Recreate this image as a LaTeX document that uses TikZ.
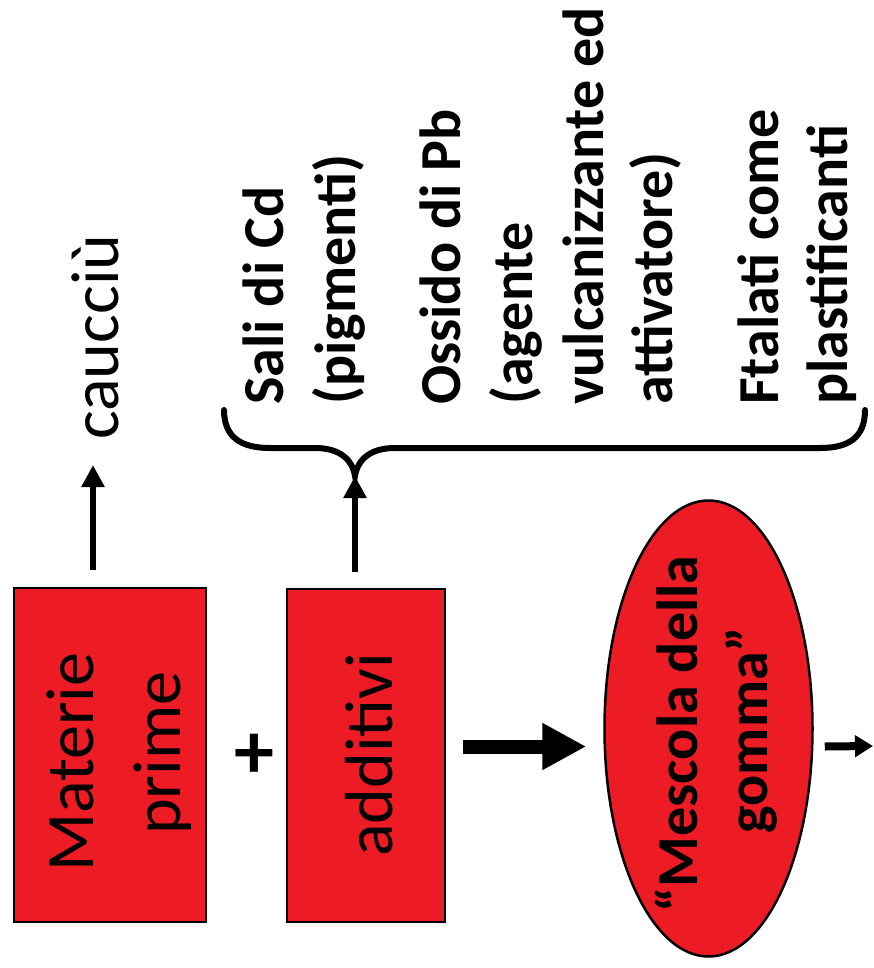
\documentclass[tikz,border=0pt]{standalone}
\usepackage{fontspec}
\setmainfont{Carlito}
\usetikzlibrary{arrows.meta,shapes.geometric,calc}
\definecolor{boxred}{HTML}{ED1C24}
\begin{document}
\begin{tikzpicture}[x=1pt,y=-1pt]
\tikzset{
 redbox/.style={draw=black, line width=2.5pt, fill=boxred, inner sep=0pt},
 reg/.style={font=\fontsize{68}{83}\selectfont, rotate=90, anchor=base west, inner sep=0pt},
 bld/.style={font=\fontsize{58}{71}\selectfont\bfseries, rotate=90, anchor=base west, inner sep=0pt},
 arr/.style={line width=6pt, -{Triangle[width=22pt,length=22pt]}},
 bigarr/.style={line width=14pt, -{Triangle[width=44pt,length=44pt]}},
 smallarr/.style={line width=8pt, -{Triangle[width=21pt,length=18pt]}},
 brace/.style={line width=6pt, line cap=round},
}
\useasboundingbox (0,0) rectangle (874,968);
\node[redbox, minimum width=192pt, minimum height=334pt] (b1) at (110,755) {};
\node[redbox, minimum width=158pt, minimum height=333pt] (b2) at (366,755.5) {};
\node[redbox, ellipse, minimum width=208pt, minimum height=456pt] (ell) at (708.5,728.5) {};
% box texts
\node[reg] (t1a) at (93,872) {Materie};
\node[reg] (t1b) at (180,835) {prime};
\node[reg] (t2) at (392,857) {additivi};
\node[reg] (cau) at (118,440) {caucciù};
\node[font=\fontsize{80}{80}\selectfont\bfseries, inner sep=0pt] (plus) at (254,756) {+};
% list
\node[bld] (l1) at (283,405) {Sali di Cd};
\node[bld] (l2) at (355,405) {(pigmenti)};
\node[bld] (l3) at (460,405) {Ossido di Pb};
\node[bld] (l4) at (532,405) {(agente};
\node[bld] (l5) at (603,405) {vulcanizzante ed};
\node[bld] (l6) at (672,405) {attivatore)};
\node[bld] (l7) at (778,405) {Ftalati come};
\node[bld] (l8) at (847,405) {plastificanti};
% ellipse text
\node[bld, anchor=base] (e1) at (697,734) {“Mescola della};
\node[bld, anchor=base] (e2) at (767,730) {gomma”};
% arrows
\coordinate (c1) at (93,465);
\draw[arr] ([xshift=-17pt,yshift=17pt]b1.north) -- (c1);
\coordinate (cusp) at (355,476);
\draw[arr] ([xshift=-11pt,yshift=16pt]b2.north) -- (cusp);
\draw[brace] (224,410) .. controls (224,438) and (242,448) .. (270,448) -- (315,448) .. controls (338,448) and (352,458) .. (cusp) .. controls (358,458) and (372,448) .. (395,448) -- (820,448) .. controls (848,448) and (865,438) .. (865,410);
\coordinate (m) at ([yshift=9pt]b2.east);
\draw[bigarr] ([xshift=17pt]m) -- ([xshift=-17pt]ell.west |- m);
\coordinate (e) at (873,746);
\draw[smallarr] ([xshift=11pt]ell.east |- m) -- (e);
\end{tikzpicture}
\end{document}
